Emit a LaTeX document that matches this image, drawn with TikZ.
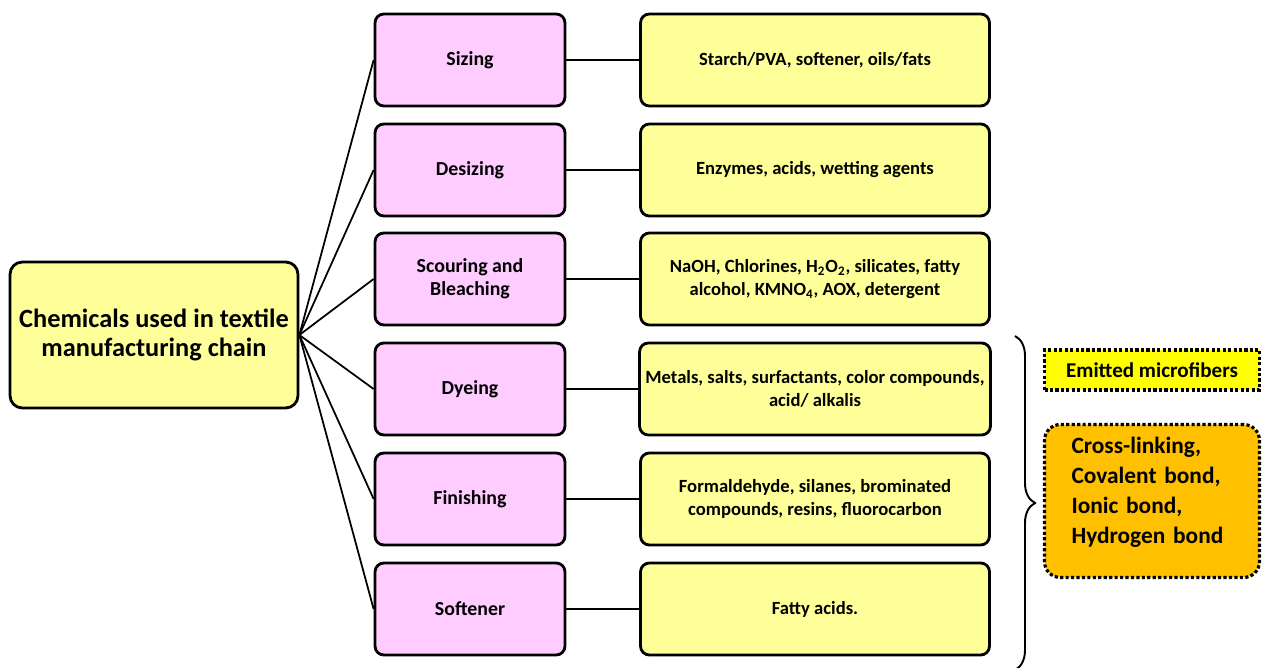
\documentclass[tikz,border=0pt]{standalone}
\usepackage{fontspec}
\setmainfont{Carlito}
\definecolor{paleyellow}{RGB}{255,255,153}
\definecolor{palepink}{RGB}{255,204,255}
\definecolor{brightyellow}{RGB}{255,255,0}
\definecolor{amber}{RGB}{255,192,0}
\usetikzlibrary{positioning, decorations.pathreplacing}

\begin{document}
\begin{tikzpicture}[
  x=0.02cm, y=-0.02cm,
  root/.style={draw, line width=1.6pt, rounded corners=7pt, fill=paleyellow,
    minimum width=5.76cm, minimum height=2.92cm, align=center, font=\fontsize{15}{16.5}\selectfont\bfseries},
  proc/.style={draw, line width=1.6pt, rounded corners=5pt, fill=palepink,
    minimum width=3.8cm, minimum height=1.84cm, align=center, font=\fontsize{11.3}{13}\selectfont\bfseries},
  chem/.style={draw, line width=1.6pt, rounded corners=5pt, fill=paleyellow,
    minimum width=6.98cm, minimum height=1.84cm, align=center, font=\fontsize{10.6}{13}\selectfont\bfseries},
  note/.style={draw, line width=1.8pt, dash pattern=on 1.8pt off 1.3pt, align=left,
    minimum width=4.3cm},
  lnk/.style={line width=1pt},
]
\useasboundingbox (0,0) rectangle (1263,668);

\node[root] (main) at (154,335) {Chemicals used in textile\\manufacturing chain};

\node[proc] (sizing) at (470,60) {Sizing};
\node[proc] (desizing) at (470,170) {Desizing};
\node[proc] (scouring) at (470,279) {Scouring and\\Bleaching};
\node[proc] (dyeing) at (470,389) {Dyeing};
\node[proc] (finishing) at (470,499) {Finishing};
\node[proc] (softener) at (470,609) {Softener};

\node[chem] (c1) at (815,60) {Starch/PVA, softener, oils/fats};
\node[chem] (c2) at (815,170) {Enzymes, acids, wetting agents};
\node[chem] (c3) at (815,279) {NaOH, Chlorines, H\textsubscript{2}O\textsubscript{2}, silicates, fatty\\alcohol, KMNO\textsubscript{4}, AOX, detergent};
\node[chem] (c4) at (815,389) {Metals, salts, surfactants, color compounds,\\acid/ alkalis};
\node[chem] (c5) at (815,499) {Formaldehyde, silanes, brominated\\compounds, resins, fluorocarbon};
\node[chem] (c6) at (815,609) {Fatty acids.};

\foreach \p in {sizing, desizing, scouring, dyeing, finishing, softener}
  \draw[lnk] (main.east) -- (\p.west);
\draw[lnk] (sizing) -- (c1);
\draw[lnk] (desizing) -- (c2);
\draw[lnk] (scouring) -- (c3);
\draw[lnk] (dyeing) -- (c4);
\draw[lnk] (finishing) -- (c5);
\draw[lnk] (softener) -- (c6);

% brace and the two side notes
\coordinate (btop) at (1015,336);
\coordinate (bbot) at (1015,670);
\draw[line width=1.1pt, decorate, decoration={brace, amplitude=0.4cm}] (btop) -- (bbot);

\node[note, fill=brightyellow, minimum height=0.8cm, align=center,
  font=\fontsize{12}{14}\selectfont\bfseries] (fibers) at (1152,370) {Emitted microfibers};
\node[note, fill=amber, rounded corners=9pt, minimum height=3.06cm, inner xsep=0.54cm,
  text width=3.22cm, text depth=63pt, font=\fontsize{13.3}{17}\selectfont\bfseries] (bonds) at (1152,501)
  {Cross-linking,\\Covalent bond,\\Ionic bond,\\Hydrogen bond};
\end{tikzpicture}
\end{document}
